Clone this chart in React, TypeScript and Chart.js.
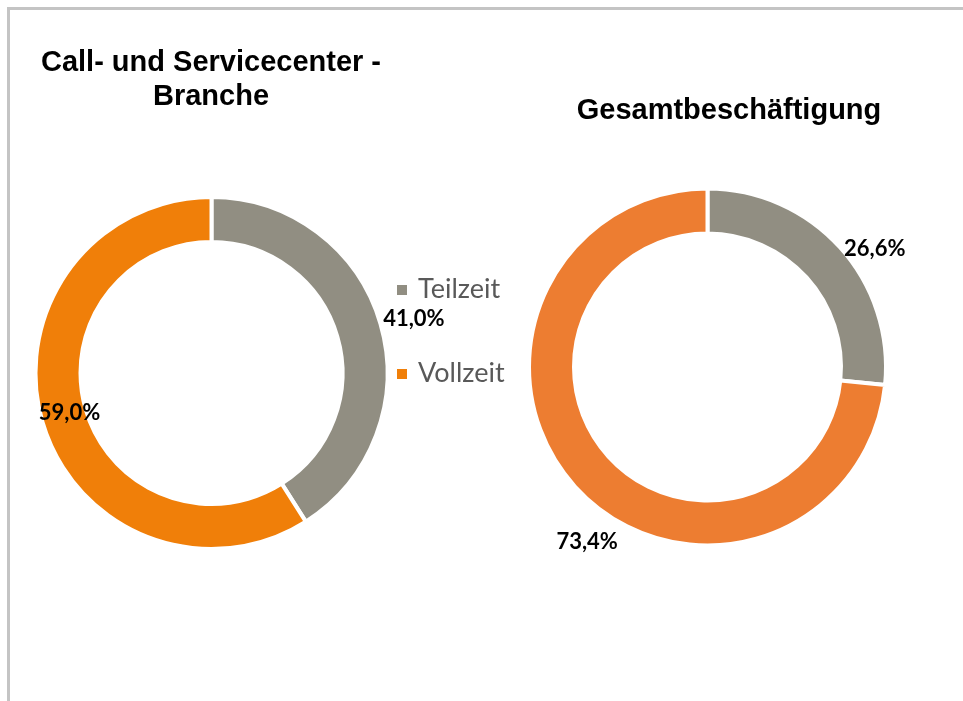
import React, { useEffect, useRef } from 'react';
import { Chart, registerables } from 'chart.js';

Chart.register(...registerables);

// ---- data ----
const categories = ['Teilzeit', 'Vollzeit'];
const branchValues = [41.0, 59.0];
const totalValues = [26.6, 73.4];
const branchTitle = ['Call- und Servicecenter -', 'Branche'];
const totalTitle = ['Gesamtbeschäftigung'];

// ---- styles ----
const branchColors = ['#918e82', '#f07f09'];
const totalColors = ['#918e82', '#ed7d31'];
const W = 963;
const H = 701;

type Cfg = {
  cx: number;
  cy: number;
  radius: number;
  inner: number;
  titleX: number;
  titleY: number[];
  labelDist: number[];
  labelShift: number[];
  legend: boolean;
};

const branchCfg: Cfg = {
  cx: 211.5, cy: 373, radius: 176, inner: 131,
  titleX: 211, titleY: [71, 105],
  labelDist: [210, 147], labelShift: [0.7, 1.3],
  legend: true,
};
const totalCfg: Cfg = {
  cx: 707.5, cy: 367, radius: 178.5, inner: 133.5,
  titleX: 729, titleY: [119],
  labelDist: [206, 210], labelShift: [6.4, -12.9],
  legend: false,
};

const fmt = (v: number) => v.toFixed(1).replace('.', ',') + '%';

function makePlugin(cfg: Cfg, title: string[]) {
  return {
    id: 'customText',
    afterDatasetsDraw(chart: any) {
      const ctx = chart.ctx as CanvasRenderingContext2D;
      const meta = chart.getDatasetMeta(0);
      const ds = chart.data.datasets[0];
      const values = ds.data as number[];
      ctx.save();
      // data labels
      ctx.fillStyle = '#000000';
      ctx.font = 'bold 22px Lato, "Open Sans", sans-serif';
      ctx.textAlign = 'center';
      ctx.textBaseline = 'alphabetic';
      meta.data.forEach((arc: any, i: number) => {
        const p = arc.getProps(['x', 'y', 'startAngle', 'endAngle'], true);
        const mid = (p.startAngle + p.endAngle) / 2 + (cfg.labelShift[i] * Math.PI) / 180;
        const d = cfg.labelDist[i];
        ctx.fillText(fmt(values[i]), p.x + d * Math.cos(mid), p.y + d * Math.sin(mid) + 9.5);
      });
      // title
      ctx.font = 'bold 29px "Liberation Sans", Arial, sans-serif';
      ctx.fillStyle = '#000000';
      title.forEach((line, j) => ctx.fillText(line, cfg.titleX, cfg.titleY[j]));
      // legend
      if (cfg.legend) {
        const labels = chart.data.labels as string[];
        const colors = ds.backgroundColor as string[];
        const ys = [298, 382];
        ctx.textAlign = 'left';
        ctx.font = '27px Lato, "Open Sans", sans-serif';
        labels.forEach((lab, i) => {
          ctx.fillStyle = colors[i];
          ctx.fillRect(397, ys[i] - 13, 10, 10);
          ctx.fillStyle = '#595959';
          ctx.fillText(lab, 418, ys[i]);
        });
      }
      ctx.restore();
    },
  };
}

function Donut({ values, colors, cfg, title }: { values: number[]; colors: string[]; cfg: Cfg; title: string[] }) {
  const ref = useRef<HTMLCanvasElement>(null);
  useEffect(() => {
    if (!ref.current) return;
    const half = 200;
    const chart = new Chart(ref.current, {
      type: 'doughnut',
      data: {
        labels: categories,
        datasets: [
          {
            data: values,
            backgroundColor: colors,
            borderColor: '#ffffff',
            borderWidth: 4,
            hoverOffset: 0,
          },
        ],
      },
      options: {
        animation: false,
        responsive: false,
        events: [],
        radius: cfg.radius,
        cutout: ((cfg.inner / cfg.radius) * 100).toFixed(3) + '%',
        layout: {
          padding: {
            left: cfg.cx - half,
            right: W - (cfg.cx + half),
            top: cfg.cy - half,
            bottom: H - (cfg.cy + half),
          },
        },
        plugins: {
          legend: { display: false },
          title: { display: false },
          tooltip: { enabled: false },
        },
      } as any,
      plugins: [makePlugin(cfg, title)],
    });
    return () => chart.destroy();
  }, []);
  return (
    <canvas
      ref={ref}
      width={W}
      height={H}
      style={{ position: 'absolute', left: 0, top: 0, width: W, height: H }}
    />
  );
}

export default function App() {
  return (
    <div
      style={{
        position: 'fixed',
        left: 0,
        top: 0,
        width: W,
        height: H,
        overflow: 'hidden',
        background: '#ffffff',
      }}
    >
      <div style={{ position: 'absolute', left: 7, top: 7, width: W - 7, height: 3, background: '#c4c4c4' }} />
      <div style={{ position: 'absolute', left: 7, top: 7, width: 3, height: H - 7, background: '#c4c4c4' }} />
      <Donut values={branchValues} colors={branchColors} cfg={branchCfg} title={branchTitle} />
      <Donut values={totalValues} colors={totalColors} cfg={totalCfg} title={totalTitle} />
    </div>
  );
}
